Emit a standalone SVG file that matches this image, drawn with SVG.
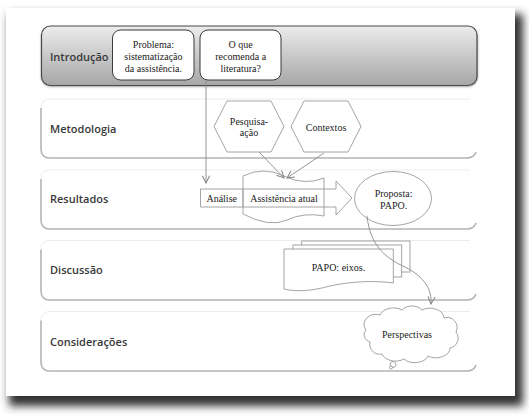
<svg xmlns="http://www.w3.org/2000/svg" width="529" height="416" viewBox="0 0 529 416">
<defs>
<style>
.band{font-family:"Open Sans","DejaVu Sans",sans-serif;font-size:11px;font-weight:600;fill:#383838}
.t{font-family:"Liberation Serif","Times New Roman",serif;font-size:10px;fill:#222;text-anchor:middle}
.box{fill:#fff;stroke:#3a3a3a;stroke-width:1}
.shape{fill:none;stroke:#9a9a9a;stroke-width:0.9}
.shapew{fill:#fff;stroke:#9a9a9a;stroke-width:0.9}
.bandtop{fill:none;stroke:#ededed;stroke-width:1}
.bandedge{fill:none;stroke:#b4b4b4;stroke-width:1.6}
.conn{fill:none;stroke:#8a8a8a;stroke-width:0.9}
</style>
<linearGradient id="g" x1="0" y1="0" x2="0" y2="1">
<stop offset="0" stop-color="#ececec"/>
<stop offset="1" stop-color="#a6a6a6"/>
</linearGradient>
<filter id="blur" x="-10%" y="-10%" width="120%" height="120%"><feGaussianBlur stdDeviation="4"/></filter>
<filter id="sblur" x="-10%" y="-30%" width="120%" height="160%"><feGaussianBlur stdDeviation="1.5"/></filter>
<marker id="ah" viewBox="0 0 10 10" refX="9" refY="5" markerWidth="9" markerHeight="9" markerUnits="userSpaceOnUse" orient="auto">
<path d="M1,1 L9,5 L1,9" fill="none" stroke="#8a8a8a" stroke-width="1.2"/>
</marker>
</defs>
<rect width="529" height="416" fill="#fff"/>
<!-- page -->
<rect x="9" y="14" width="514" height="392" fill="#333" filter="url(#blur)"/>
<rect x="6" y="8" width="509" height="388" fill="#fff"/>

<!-- bands -->
<g id="band-introducao">
<rect x="42" y="28" width="435" height="58" rx="9" fill="#555" filter="url(#sblur)"/>
<rect x="41.5" y="26" width="435.5" height="59.5" rx="9" fill="url(#g)" stroke="#4a4a4a" stroke-width="1.2"/>
<text class="band" x="50" y="61">Introdução</text>
</g>
<g id="band-metodologia">
<path class="bandtop" d="M41,108 Q41,99 50,99 L470,99"/>
<path class="bandedge" d="M41,108 L41,149 Q41,158 50,158 L467,158 Q474,158 476,152"/>
<text class="band" x="50" y="133">Metodologia</text>
</g>
<g id="band-resultados">
<path class="bandtop" d="M41,179 Q41,170 50,170 L470,170"/>
<path class="bandedge" d="M41,179 L41,220 Q41,229 50,229 L467,229 Q474,229 476,223"/>
<text class="band" x="50" y="203">Resultados</text>
</g>
<g id="band-discussao">
<path class="bandtop" d="M41,249.5 Q41,240.5 50,240.5 L470,240.5"/>
<path class="bandedge" d="M41,249.5 L41,291 Q41,300 50,300 L467,300 Q474,300 476,294"/>
<text class="band" x="50" y="274">Discussão</text>
</g>
<g id="band-consideracoes">
<path class="bandtop" d="M41,320.5 Q41,311.5 50,311.5 L470,311.5"/>
<path class="bandedge" d="M41,320.5 L41,362 Q41,371 50,371 L467,371 Q474,371 476,365"/>
<text class="band" x="50" y="346">Considerações</text>
</g>

<!-- nodes -->
<g id="problema">
<rect class="box" x="112.5" y="30" width="81.5" height="50" rx="8"/>
<text class="t" x="153.4" y="47.5">Problema:</text>
<text class="t" x="153.4" y="59.5">sistematização</text>
<text class="t" x="153.4" y="71.5">da assistência.</text>
</g>
<g id="literatura">
<rect class="box" x="200" y="30" width="81" height="50" rx="8"/>
<text class="t" x="240.7" y="47.5">O que</text>
<text class="t" x="240.7" y="59.5">recomenda a</text>
<text class="t" x="240.7" y="71.5">literatura?</text>
</g>
<g id="pesquisa-acao">
<polygon class="shapew" points="214,126.5 227,101 271,101 284,126.5 271,152 227,152"/>
<text class="t" x="249" y="124.5">Pesquisa-</text>
<text class="t" x="249" y="135.5">ação</text>
</g>
<g id="contextos">
<polygon class="shapew" points="291,126.5 304,101 348,101 361,126.5 348,152 304,152"/>
<text class="t" x="326" y="131">Contextos</text>
</g>
<g id="analise-seta">
<path class="shape" d="M200.5,189 L336,189 L336,181 L352,198 L336,215 L336,207 L200.5,207 Z"/>
<line class="shape" x1="243" y1="189" x2="243" y2="207"/>
<text class="t" x="221.7" y="201.5">Análise</text>
</g>
<g id="assistencia-atual">
<path class="shape" d="M243,176 Q263.5,166 284,176 T324,178 L324,216 Q304,212 287,220 T243,214 Z"/>
<text class="t" x="284" y="201.5">Assistência atual</text>
</g>
<g id="proposta">
<ellipse class="shapew" cx="393" cy="198.5" rx="38.5" ry="27"/>
<text class="t" x="393.6" y="197">Proposta:</text>
<text class="t" x="393.6" y="208.5">PAPO.</text>
</g>
<g id="papo-eixos">
<rect class="shapew" x="301.7" y="241" width="108.3" height="31"/>
<rect class="shapew" x="293" y="245" width="108.7" height="32"/>
<path class="shapew" d="M284,249 L393.3,249 L393.3,283 C372,280 348,282 330,286 C312,291 296,292 284,289 Z"/>
<text class="t" x="338.5" y="271">PAPO: eixos.</text>
</g>
<g id="perspectivas">
<path class="shapew" d="M366,330 a12,10 0 0 1 14,-15 a14,10 0 0 1 22,-5 a12,9 0 0 1 20,0 a14,10 0 0 1 22,8 a10,10 0 0 1 12,14 a10,10 0 0 1 -6,16 a14,10 0 0 1 -22,8 a14,10 0 0 1 -24,3 a14,10 0 0 1 -22,-5 a10,10 0 0 1 -12,-12 a10,8 0 0 1 -4,-12 Z"/>
<circle class="shapew" cx="393" cy="364.5" r="3"/>
<circle class="shapew" cx="391" cy="367.5" r="1.5"/>
<text class="t" x="407" y="338">Perspectivas</text>
</g>

<!-- connectors -->
<g id="connectors">
<line class="conn" x1="206" y1="80" x2="206" y2="183" marker-end="url(#ah)"/>
<line class="conn" x1="259" y1="152" x2="284" y2="178" marker-end="url(#ah)"/>
<line class="conn" x1="324" y1="153" x2="287" y2="178" marker-end="url(#ah)"/>
<path class="conn" d="M367,216 C370,245 385,258 405,267 C425,277 432,290 431,304" marker-end="url(#ah)"/>
</g>
</svg>
